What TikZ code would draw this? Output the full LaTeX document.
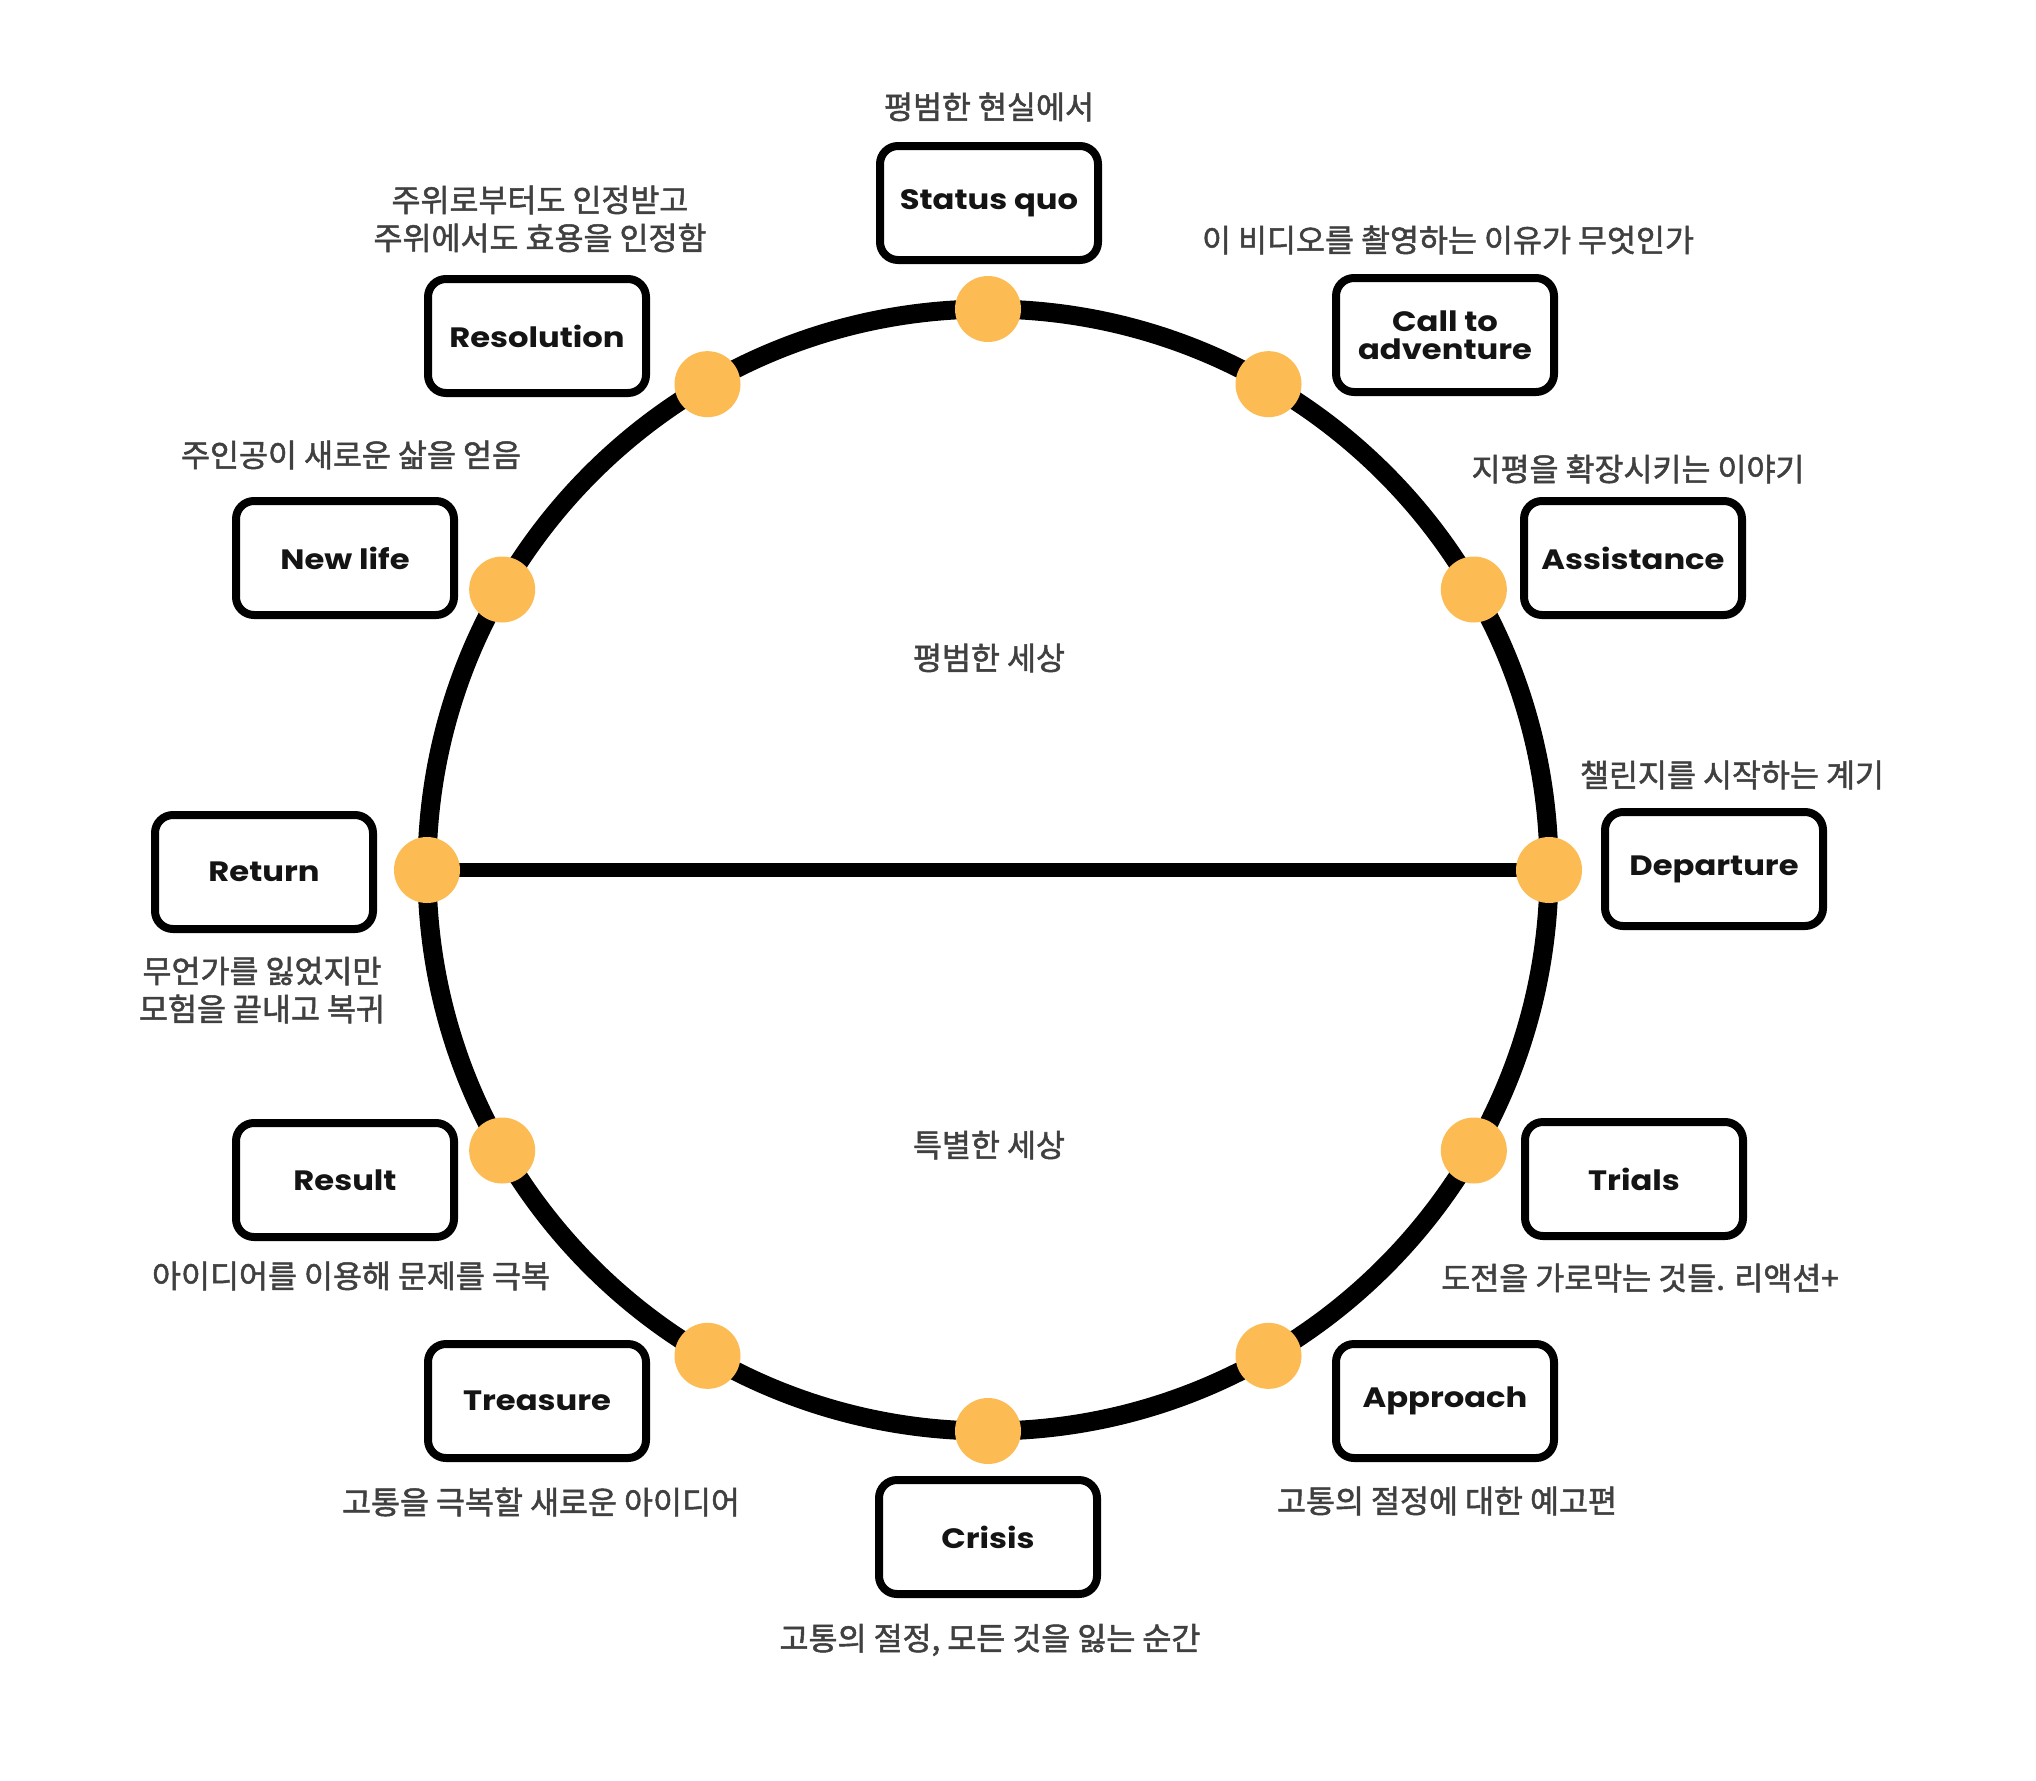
\documentclass[tikz,border=0pt]{standalone}
\usepackage{fontspec}
\setmainfont{Poppins}
\newfontfamily\boxfont{Poppins}[FakeStretch=1.15]
\newfontfamily\kr{Noto Sans CJK KR}[FakeBold=1.6]
\usetikzlibrary{calc}
\definecolor{dotcol}{HTML}{FDBB54}
\definecolor{txtcol}{HTML}{404040}
\begin{document}
\begin{tikzpicture}[x=1pt,y=-1pt,
  stagebox/.style={draw=black, line width=8pt, rounded corners=18pt, minimum width=218pt, minimum height=114pt, fill=white, font=\boxfont\fontsize{28}{28}\selectfont\bfseries, text=black!92, align=center, inner sep=0pt},
  notetext/.style={font=\kr\fontsize{31.5}{38}\selectfont, text=txtcol, align=center, inner sep=0pt},
  stopdot/.style={circle, fill=dotcol, minimum size=66pt, inner sep=0pt}]
\fill[white] (0,0) rectangle (2036,1780);
\useasboundingbox (0,0) rectangle (2036,1780);
\coordinate (c) at (988,870);
% stop positions (visual angle t -> polar -t)
\coordinate (pdep) at ($(c)+(0:561pt)$);
\coordinate (pass) at ($(c)+(-30:561pt)$);
\coordinate (pcall) at ($(c)+(-60:561pt)$);
\coordinate (psq) at ($(c)+(-90:561pt)$);
\coordinate (pres) at ($(c)+(-120:561pt)$);
\coordinate (pnew) at ($(c)+(-150:561pt)$);
\coordinate (pret) at ($(c)+(180:561pt)$);
\coordinate (prlt) at ($(c)+(150:561pt)$);
\coordinate (ptre) at ($(c)+(120:561pt)$);
\coordinate (pcri) at ($(c)+(90:561pt)$);
\coordinate (papp) at ($(c)+(60:561pt)$);
\coordinate (ptri) at ($(c)+(30:561pt)$);
% ring and divider
\draw[line width=19pt] (c) circle[radius=561pt];
\draw[line width=14pt] (pret) -- (pdep);
% stops
\foreach \p in {pdep,pass,pcall,psq,pres,pnew,pret,prlt,ptre,pcri,papp,ptri}
  \node[stopdot] (d\p) at (\p) {};
% stage boxes
\node[stagebox] (status) at (989,203) {Status quo};
\node[stagebox] (call) at (1445,335) {Call to\\adventure};
\node[stagebox] (assist) at (1633,558) {Assistance};
\node[stagebox] (depart) at (1714,869) {Departure};
\node[stagebox] (trials) at (1634,1179) {Trials};
\node[stagebox] (approach) at (1445,1401) {Approach};
\node[stagebox] (crisis) at (988,1537) {Crisis};
\node[stagebox] (treasure) at (537,1401) {Treasure};
\node[stagebox] (result) at (345,1180) {Result};
\node[stagebox] (return) at (264,872) {Return};
\node[stagebox] (newlife) at (345,558) {New life};
\node[stagebox] (resolution) at (537,336) {Resolution};
% captions
\node[notetext] (cstatus) at (989,107) {평범한 현실에서};
\node[notetext] (ccall) at (1448,240) {이 비디오를 촬영하는 이유가 무엇인가};
\node[notetext] (cassist) at (1638,469) {지평을 확장시키는 이야기};
\node[notetext] (cdepart) at (1732,775) {챌린지를 시작하는 계기};
\node[notetext] (ctrials) at (1640,1278) {도전을 가로막는 것들. 리액션+};
\node[notetext] (capproach) at (1447,1501) {고통의 절정에 대한 예고편};
\node[notetext] (ccrisis) at (990,1640) {고통의 절정, 모든 것을 잃는 순간};
\node[notetext] (ctreasure) at (541,1502) {고통을 극복할 새로운 아이디어};
\node[notetext] (cresult) at (351,1276) {아이디어를 이용해 문제를 극복};
\node[notetext] (creturn) at (262,990) {무언가를 잃었지만\\모험을 끝내고 복귀};
\node[notetext] (cnewlife) at (351,455) {주인공이 새로운 삶을 얻음};
\node[notetext] (cresolution) at (540,219) {주위로부터도 인정받고\\주위에서도 효용을 인정함};
% world labels
\node[notetext] (ordinary) at (989,658) {평범한 세상};
\node[notetext] (special) at (989,1145) {특별한 세상};
\end{tikzpicture}
\end{document}
